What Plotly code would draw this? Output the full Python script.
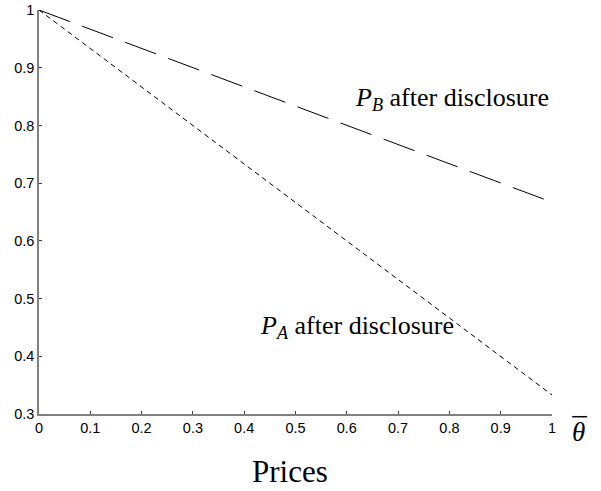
import plotly.graph_objects as go

theta = [0.0, 1.0]
p_b = [1.0, 0.667]
p_a = [1.0, 0.333]
x_ticks = [0, 0.1, 0.2, 0.3, 0.4, 0.5, 0.6, 0.7, 0.8, 0.9, 1]
x_tick_labels = ["0", "0.1", "0.2", "0.3", "0.4", "0.5", "0.6", "0.7", "0.8", "0.9", "1"]
y_ticks = [0.3, 0.4, 0.5, 0.6, 0.7, 0.8, 0.9, 1]
y_tick_labels = ["0.3", "0.4", "0.5", "0.6", "0.7", "0.8", "0.9", "1"]

fig = go.Figure()
fig.add_trace(go.Scatter(x=theta, y=p_b, mode="lines",
                         line=dict(color="black", width=1, dash="33px,13px"),
                         showlegend=False, cliponaxis=False))
fig.add_trace(go.Scatter(x=theta, y=p_a, mode="lines",
                         line=dict(color="black", width=1, dash="5px,4px"),
                         showlegend=False, cliponaxis=False))

axis_common = dict(showline=True, linecolor="#808080", linewidth=1.5,
                   ticks="inside", ticklen=3, tickcolor="#404040",
                   showgrid=False, zeroline=False, mirror=False, automargin=False,
                   ticklabeloverflow="allow",
                   tickfont=dict(family="Liberation Sans, Arial", size=14.5, color="black"))
fig.update_xaxes(range=[0, 1], tickvals=x_ticks, ticktext=x_tick_labels, **axis_common)
fig.update_yaxes(range=[0.3, 1], tickvals=y_ticks, ticktext=y_tick_labels, **axis_common)

serif = dict(family="Liberation Serif, Times New Roman", color="black")
fig.add_annotation(x=0.612, y=0.846, xref="x", yref="y",
                   text="<i>P</i><sub><i>B</i></sub> after disclosure",
                   showarrow=False, xanchor="left", yanchor="middle",
                   font=dict(size=26, **serif))
fig.add_annotation(x=0.427, y=0.451, xref="x", yref="y",
                   text="<i>P</i><sub><i>A</i></sub> after disclosure",
                   showarrow=False, xanchor="left", yanchor="middle",
                   font=dict(size=26, **serif))
fig.add_annotation(x=1.035, y=-0.0446, xref="paper", yref="paper",
                   text="<i>θ</i>",
                   showarrow=False, xanchor="left", yanchor="middle",
                   font=dict(size=27, **serif))
# overbar of theta-bar
fig.add_shape(type="line", xref="paper", yref="paper",
              x0=1.0395, x1=1.0685, y0=-0.0067, y1=-0.0067,
              line=dict(color="black", width=1.5))
fig.add_annotation(x=0.49, y=0, xref="paper", yref="paper",
                   text="Prices", showarrow=False, xanchor="center", yanchor="middle",
                   yshift=-57, font=dict(size=31, **serif))

fig.update_layout(width=601, height=491, margin=dict(l=39, r=49, t=10, b=77),
                  plot_bgcolor="white", paper_bgcolor="white")
fig.write_html("out.html", config={"displayModeBar": False},
               post_script="document.body.style.margin='0px';")
